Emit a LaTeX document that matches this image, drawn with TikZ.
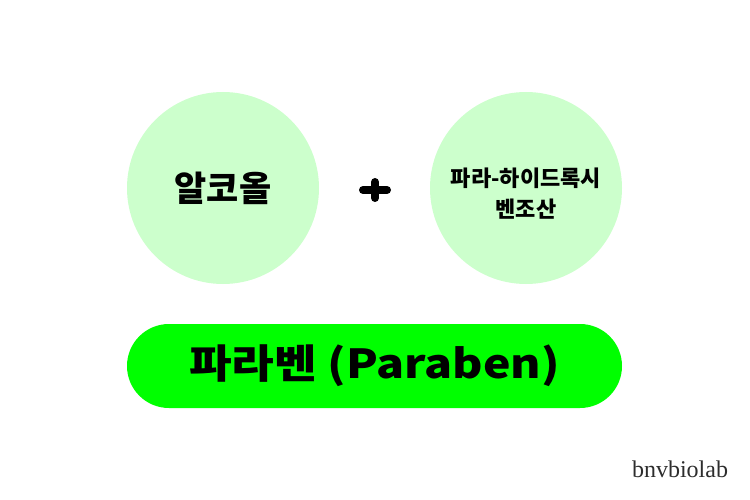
\documentclass[tikz,border=0pt]{standalone}
\usepackage{fontspec}
\usetikzlibrary{shapes.misc}
\setmainfont{Liberation Serif}
\newfontfamily\kr{Noto Sans CJK KR}
\definecolor{softgreen}{RGB}{204,255,204}
\definecolor{brightgreen}{RGB}{0,255,0}
\definecolor{wmgray}{RGB}{45,45,45}
\begin{document}
\begin{tikzpicture}[x=1pt,y=-1pt,
  bubble/.style={circle,fill=softgreen,minimum size=192pt,inner sep=0pt,align=center,font=\kr\bfseries},
  pill/.style={rounded rectangle,fill=brightgreen,minimum width=495pt,minimum height=84pt,inner sep=0pt,font=\kr\bfseries\fontsize{40}{42}\selectfont},
  plusbar/.style={line width=8pt,line cap=round,black}]
\useasboundingbox (0,0) rectangle (750,500);
\node[bubble,font=\kr\bfseries\fontsize{35}{37}\selectfont] (alc) at (223,188) {알코올};
\node[bubble] (phba) at (526,188) {};
\node[align=center,inner sep=0pt,font=\kr\bfseries\fontsize{22}{31}\selectfont] (phbatxt) at (526,194) {파라-하이드록시\\벤조산};
\coordinate (pl) at (375,190);
\draw[plusbar] ([xshift=-12pt]pl) -- ([xshift=12pt]pl);
\draw[plusbar] ([yshift=-8pt]pl) -- ([yshift=8pt]pl);
\node[pill] (par) at (374.5,366) {\scalebox{1.16}[1]{파라벤 (Paraben)}};
\node[font=\fontsize{24}{26}\selectfont,text=wmgray] (wm) at (680,469) {bnvbiolab};
\end{tikzpicture}
\end{document}
